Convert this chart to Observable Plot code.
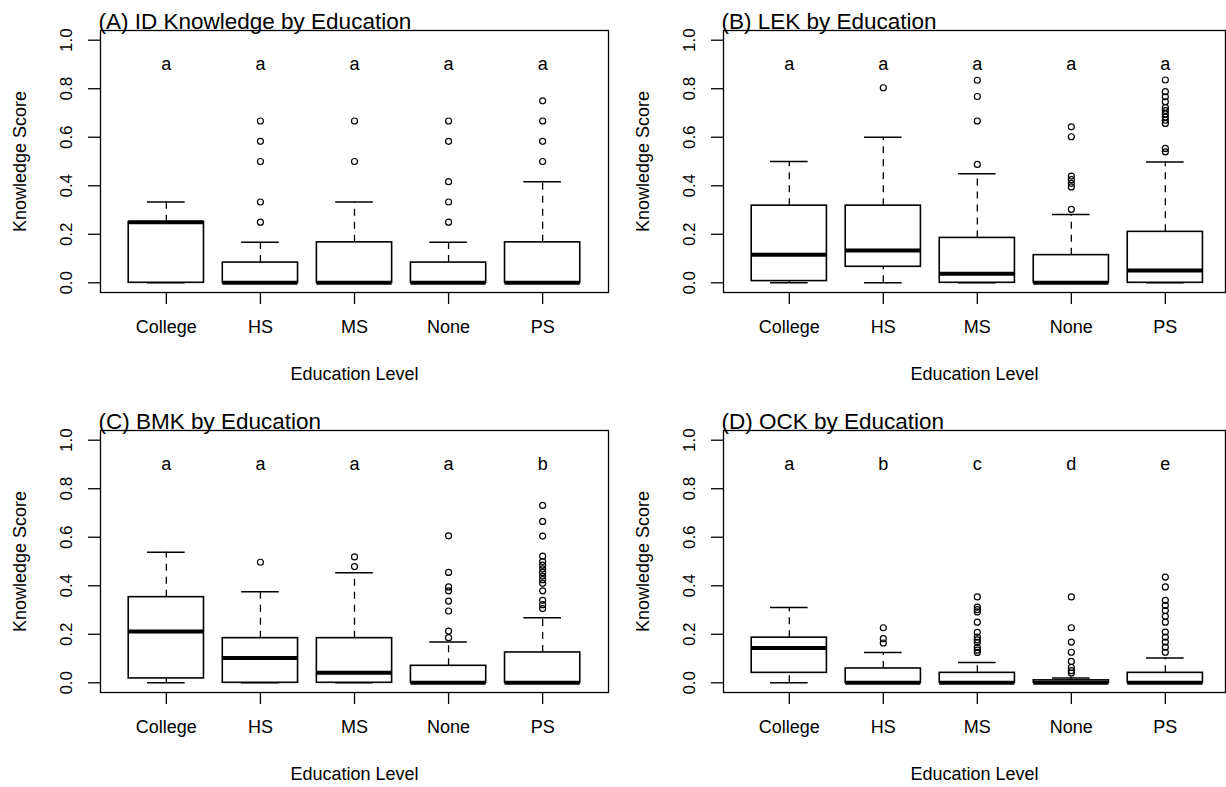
<!DOCTYPE html>
<html><head><meta charset="utf-8">
<script src="https://cdn.jsdelivr.net/npm/d3@7"></script>
<script src="https://cdn.jsdelivr.net/npm/@observablehq/plot@0.6"></script>
<style>
body{margin:0;background:#fff;}
#wrap{position:relative;width:1226px;height:787px;overflow:hidden;background:#fff;}
.panel{position:absolute;}
</style></head><body><div id="wrap"></div>
<script>
const categories = ["College", "HS", "MS", "None", "PS"];
const yTicks = [0, 0.2, 0.4, 0.6, 0.8, 1.0];
const letterLevel = 0.9;
const xLabel = "Education Level";
const yLabel = "Knowledge Score";

// (A) ID Knowledge
const idLow    = [0, 0, 0, 0, 0];
const idQ1     = [0, 0, 0, 0, 0];
const idMedian = [0.25, 0, 0, 0, 0];
const idQ3     = [0.25, 0.0833, 0.1667, 0.0833, 0.1667];
const idHigh   = [0.333, 0.1667, 0.333, 0.1667, 0.4167];
const idOutliers = [[], [0.25, 0.333, 0.5, 0.583, 0.667], [0.5, 0.667], [0.25, 0.333, 0.4167, 0.583, 0.667], [0.5, 0.583, 0.667, 0.75]];
const idLetters = ["a", "a", "a", "a", "a"];

// (B) LEK
const lekLow    = [0, 0, 0, 0, 0];
const lekQ1     = [0.007, 0.066, 0, 0, 0];
const lekMedian = [0.116, 0.133, 0.037, 0, 0.051];
const lekQ3     = [0.318, 0.318, 0.185, 0.114, 0.21];
const lekHigh   = [0.5, 0.6, 0.45, 0.282, 0.498];
const lekOutliers = [[], [0.804], [0.488, 0.667, 0.768, 0.835], [0.303, 0.395, 0.41, 0.425, 0.44, 0.602, 0.643], [0.54, 0.554, 0.657, 0.67, 0.683, 0.696, 0.71, 0.723, 0.746, 0.767, 0.788, 0.836]];
const lekLetters = ["a", "a", "a", "a", "a"];

// (C) BMK
const bmkLow    = [0, 0, 0, 0, 0];
const bmkQ1     = [0.018, 0, 0, 0, 0];
const bmkMedian = [0.211, 0.102, 0.041, 0, 0];
const bmkQ3     = [0.353, 0.184, 0.184, 0.07, 0.125];
const bmkHigh   = [0.538, 0.375, 0.454, 0.168, 0.268];
const bmkOutliers = [[], [0.497], [0.479, 0.519], [0.186, 0.213, 0.296, 0.337, 0.379, 0.395, 0.455, 0.606], [0.306, 0.322, 0.34, 0.379, 0.41, 0.425, 0.44, 0.455, 0.47, 0.485, 0.5, 0.522, 0.605, 0.665, 0.731]];
const bmkLetters = ["a", "a", "a", "a", "b"];

// (D) OCK
const ockLow    = [0, 0, 0, 0, 0];
const ockQ1     = [0.041, 0, 0, 0, 0];
const ockMedian = [0.143, 0, 0, 0, 0];
const ockQ3     = [0.186, 0.059, 0.041, 0.01, 0.041];
const ockHigh   = [0.31, 0.125, 0.084, 0.02, 0.102];
const ockOutliers = [[], [0.164, 0.182, 0.227], [0.125, 0.135, 0.146, 0.167, 0.177, 0.188, 0.208, 0.25, 0.292, 0.302, 0.312, 0.354], [0.04, 0.05, 0.063, 0.088, 0.126, 0.168, 0.227, 0.354], [0.126, 0.147, 0.168, 0.188, 0.209, 0.25, 0.274, 0.298, 0.319, 0.34, 0.395, 0.436]];
const ockLetters = ["a", "b", "c", "d", "e"];

const panels = [
  {title: "(A) ID Knowledge by Education", low: idLow, q1: idQ1, median: idMedian, q3: idQ3, high: idHigh, outliers: idOutliers, letters: idLetters,
   left: 0, top: 0, w: 613, h: 393, ml: 100, mr: 5, mb: 101, xDomain: [0.3, 5.7]},
  {title: "(B) LEK by Education", low: lekLow, q1: lekQ1, median: lekMedian, q3: lekQ3, high: lekHigh, outliers: lekOutliers, letters: lekLetters,
   left: 613, top: 0, w: 613, h: 393, ml: 110, mr: 1, mb: 101, xDomain: [0.3, 5.64]},
  {title: "(C) BMK by Education", low: bmkLow, q1: bmkQ1, median: bmkMedian, q3: bmkQ3, high: bmkHigh, outliers: bmkOutliers, letters: bmkLetters,
   left: 0, top: 400, w: 613, h: 387, ml: 100, mr: 5, mb: 95, xDomain: [0.3, 5.7]},
  {title: "(D) OCK by Education", low: ockLow, q1: ockQ1, median: ockMedian, q3: ockQ3, high: ockHigh, outliers: ockOutliers, letters: ockLetters,
   left: 613, top: 400, w: 613, h: 387, ml: 110, mr: 1, mb: 95, xDomain: [0.3, 5.64]}
];

const font = "'Liberation Sans', Arial, sans-serif";

function makePanel(p) {
  const rows = categories.map((c, k) => ({i: k + 1, lo: p.low[k], q1: p.q1[k], med: p.median[k], q3: p.q3[k], hi: p.high[k], letter: p.letters[k]}));
  const outs = p.outliers.flatMap((arr, k) => arr.map(v => ({i: k + 1, v})));
  return Plot.plot({
    width: p.w, height: p.h,
    marginLeft: p.ml, marginRight: p.mr, marginTop: 30, marginBottom: p.mb,
    x: {type: "linear", domain: p.xDomain, axis: null},
    y: {type: "linear", domain: [-0.04, 1.04], axis: null},
    style: {fontFamily: font, color: "black", background: "transparent", overflow: "visible", maxWidth: "none"},
    marks: [
      Plot.axisY({ticks: yTicks, tickSize: 12, tickFormat: d => d.toFixed(1), tickRotate: -90, tickPadding: 17, fontSize: 17, strokeWidth: 1.3, label: null}),
      Plot.axisX({ticks: [1, 2, 3, 4, 5], tickSize: 12, tickFormat: d => categories[d - 1], tickPadding: 16, fontSize: 18, strokeWidth: 1.3, label: null}),
      Plot.ruleX(rows, {x: "i", y1: "q3", y2: "hi", stroke: "black", strokeWidth: 1.3, strokeDasharray: "7,6"}),
      Plot.ruleX(rows, {x: "i", y1: "lo", y2: "q1", stroke: "black", strokeWidth: 1.3, strokeDasharray: "7,6"}),
      Plot.ruleY(rows, {y: "hi", x1: d => d.i - 0.2, x2: d => d.i + 0.2, stroke: "black", strokeWidth: 1.5}),
      Plot.ruleY(rows, {y: "lo", x1: d => d.i - 0.2, x2: d => d.i + 0.2, stroke: "black", strokeWidth: 1.5}),
      Plot.rect(rows, {x1: d => d.i - 0.4, x2: d => d.i + 0.4, y1: "q1", y2: "q3", fill: "white", stroke: "black", strokeWidth: 1.6}),
      Plot.ruleY(rows, {y: "med", x1: d => d.i - 0.4, x2: d => d.i + 0.4, stroke: "black", strokeWidth: 4}),
      Plot.dot(outs, {x: "i", y: "v", r: 3, stroke: "black", strokeWidth: 1.2, fill: "none"}),
      Plot.text(rows, {x: "i", y: () => letterLevel, text: "letter", fontSize: 18, fill: "black"}),
      Plot.frame({stroke: "black", strokeWidth: 1.3}),
      Plot.text([p.title], {text: d => d, frameAnchor: "top-left", textAnchor: "start", lineAnchor: "bottom", dx: -2, dy: -2, fontSize: 22.5, fill: "black"}),
      Plot.text([xLabel], {text: d => d, frameAnchor: "bottom", textAnchor: "middle", lineAnchor: "middle", dy: 82, fontSize: 18, fill: "black"}),
      Plot.text([yLabel], {text: d => d, frameAnchor: "left", textAnchor: "middle", lineAnchor: "middle", rotate: -90, dx: -80, fontSize: 18, fill: "black"})
    ]
  });
}

const wrap = document.getElementById("wrap");
for (const p of panels) {
  const div = document.createElement("div");
  div.className = "panel";
  div.style.left = p.left + "px";
  div.style.top = p.top + "px";
  div.appendChild(makePanel(p));
  wrap.appendChild(div);
}
</script>
</body></html>
